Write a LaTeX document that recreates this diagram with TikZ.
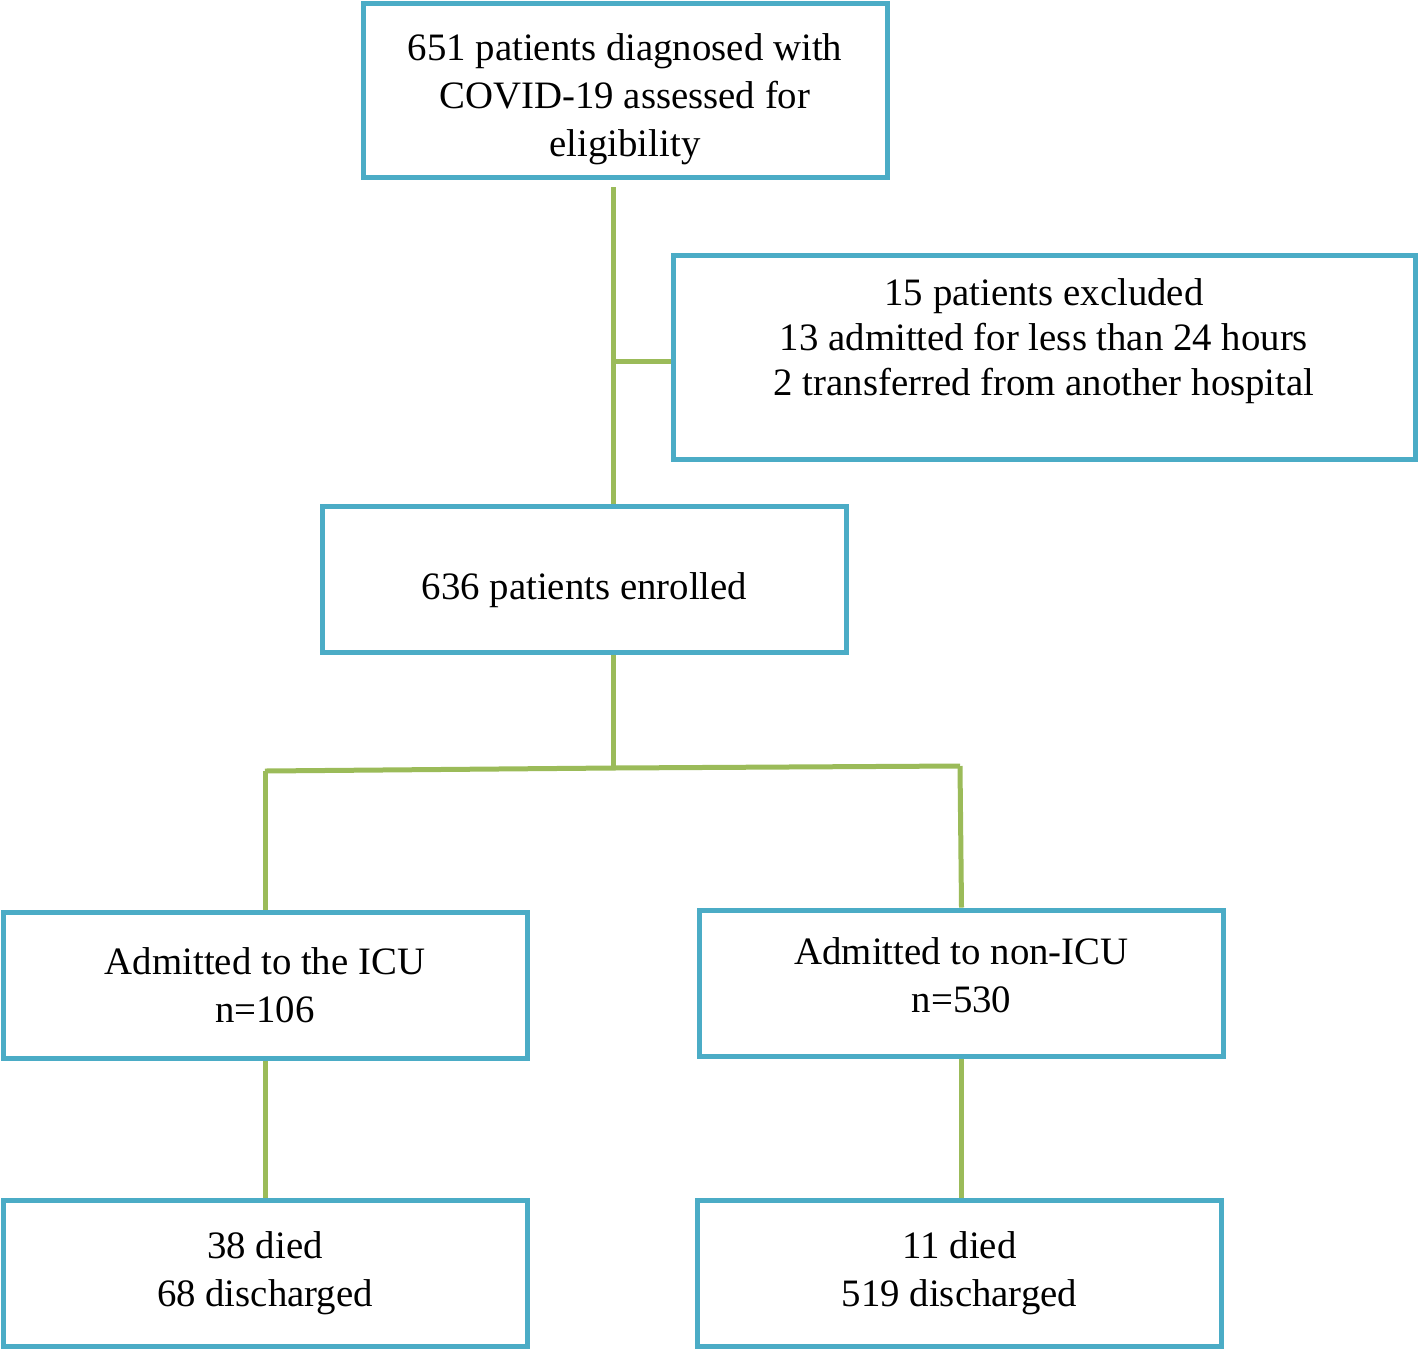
\documentclass[tikz,border=0pt]{standalone}
\usepackage{fontspec}
\setmainfont{Liberation Serif}
\usetikzlibrary{positioning}
\definecolor{boxblue}{HTML}{4BACC6}
\definecolor{linkgreen}{HTML}{9BBB59}
\tikzset{
    stage/.style={draw=boxblue, line width=2.5pt, rectangle, align=center,
        font=\fontsize{19.4}{24}\selectfont, inner sep=0pt},
    stagewide/.style={stage, minimum width=262pt, minimum height=73pt},
    link/.style={draw=linkgreen, line width=2.5pt},
}

\begin{document}
\begin{tikzpicture}[x=0.5pt,y=-0.5pt]
      \useasboundingbox (0,0) rectangle (1418,1350);

      \node[stagewide, minimum height=87pt] (assess) at (625,90.5)
        {651 patients diagnosed with\\COVID-19 assessed for\\eligibility\\[-29pt]};
      \node[stage, minimum width=371pt, minimum height=102pt] (excl) at (1044,357.5) {};
      \node[align=center, font=\fontsize{19.4}{22.5}\selectfont] (excltext) at (1044,341)
        {15 patients excluded\\13 admitted for less than 24 hours\\2 transferred from another hospital};
      \node[stagewide] (enrol) at (584.5,579) {636 patients enrolled\\[-31pt]};
      \node[stagewide] (icu) at (265,985.5) {Admitted to the ICU\\n=106};
      \node[stagewide] (ward) at (961.5,983) {Admitted to non-ICU\\n=530\\[-16pt]};
      \node[stagewide] (icuout) at (265,1273.5) {38 died\\68 discharged};
      \node[stagewide] (wardout) at (959.5,1273.5) {11 died\\519 discharged};

      % branch points
      \coordinate (split) at (613,361);
      \coordinate (fork) at (613,768);
      \coordinate (forkl) at (265,771);
      \coordinate (forkr) at (960,766);

      \draw[link] ([yshift=-3.5pt]assess.south -| split) -- (enrol.north -| split);
      \draw[link] (split) -- (split -| excl.west);
      \draw[link] (enrol.south -| fork) -- (fork);
      \draw[link] (forkl) -- (fork) -- (forkr);
      \draw[link] (forkl) -- (icu.north);
      \draw[link] (forkr) -- (ward.north);
      \draw[link] (icu.south) -- (icuout.north);
      \draw[link] (ward.south) -- (wardout.north -| ward.south);
\end{tikzpicture}
\end{document}
